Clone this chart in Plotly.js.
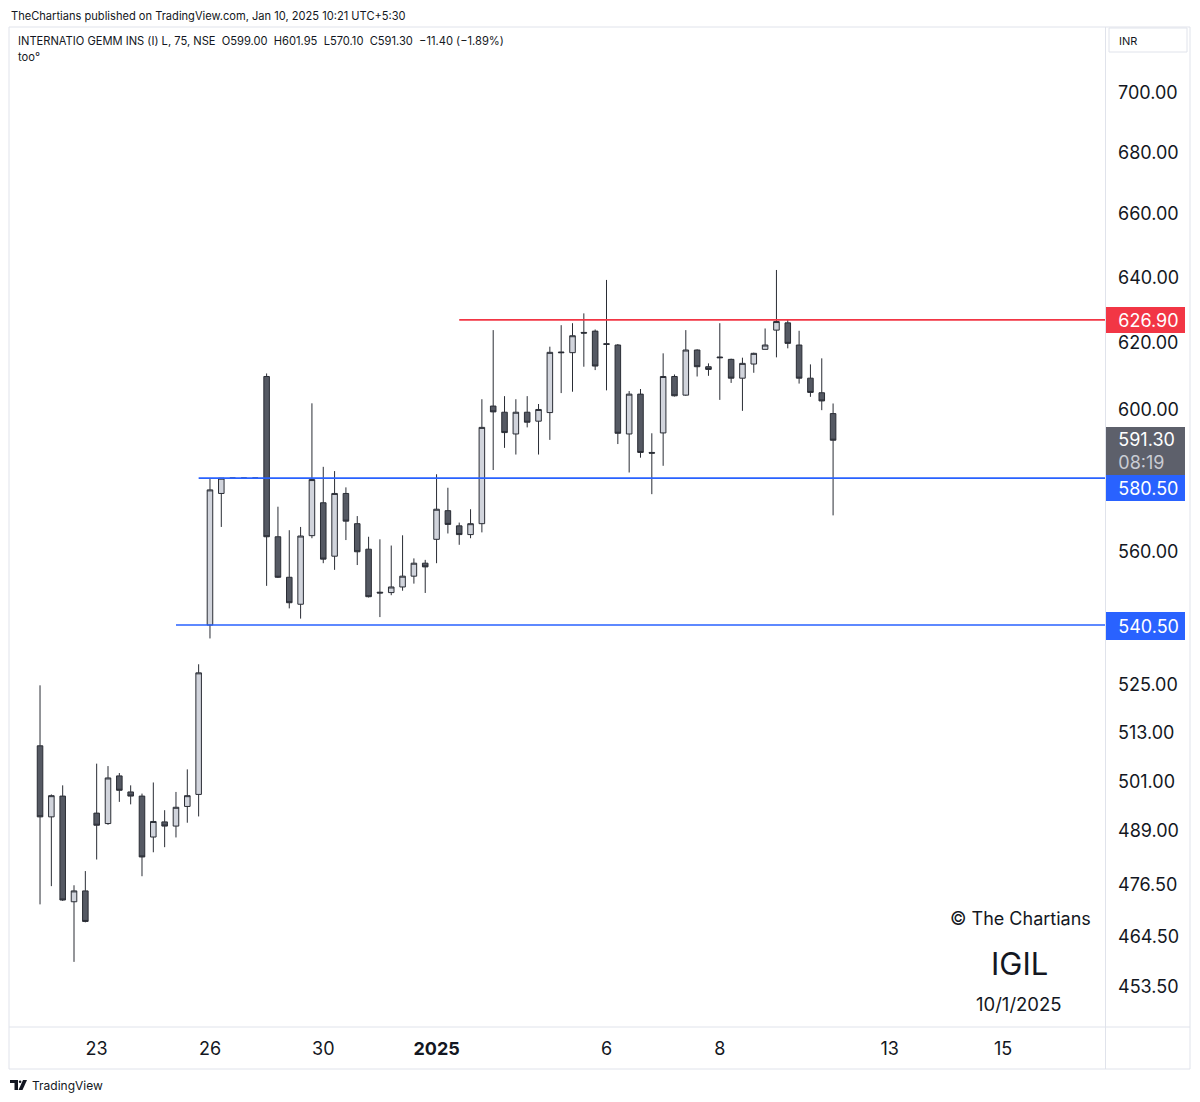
<!DOCTYPE html>
<html>
<head>
<meta charset="utf-8">
<script src="https://cdn.plot.ly/plotly-3.0.1.min.js"></script>
<style>
html,body{margin:0;padding:0;background:#fff;}
#chart{width:1200px;height:1102px;}
</style>
</head>
<body>
<div id="chart"></div>
<script>
// 75-minute bars, IGIL (NSE), Dec 20 2024 -> Jan 10 2025 (5 bars per session)
const open  = [509.7,492.4,497.4,472.5,475.0, 493.3,490.8,502.3,498.4,497.4, 487.6,491.2,490.2,494.9,497.8,
               540.5,576.2,580.5,580.5,580.5, 609.9,564.2,553.2,546.0,564.5, 573.6,558.9,576.2,567.8,560.8,
               549.2,549.1,550.6,553.5,557.0, 563.5,571.4,567.2,564.8,567.8, 601.2,599.4,593.1,599.4,596.8,
               599.3,617.2,617.0,623.1,623.5, 619.7,619.3,593.1,604.7,587.8, 593.4,609.9,604.4,617.8,612.8,
               615.7,615.0,609.4,613.6,618.0, 623.8,626.0,619.3,609.4,605.1, 599.0];
const high  = [524.9,497.8,500.0,476.3,479.6, 505.3,504.7,503.0,500.0,498.0, 500.7,494.0,498.4,503.9,530.3,
               580.5,580.5,580.5,580.5,580.5, 610.8,572.5,566.0,566.9,602.0, 583.7,582.5,577.9,569.9,564.2,
               563.5,561.8,564.6,558.3,557.9, 581.6,577.8,568.1,571.8,603.2, 623.8,604.1,603.2,604.1,601.8,
               618.8,625.3,625.9,628.9,624.0, 639.2,619.6,605.6,606.2,593.3, 616.8,610.5,623.8,618.0,613.8,
               625.9,615.2,615.5,617.0,624.3, 642.3,626.9,623.6,613.5,615.3, 601.95];
const low   = [471.9,476.1,472.7,458.9,467.8, 482.3,490.5,496.0,495.4,478.4, 484.0,485.2,487.5,491.0,492.5,
               537.0,566.9,580.5,580.5,580.5, 550.9,553.0,544.9,542.2,563.8, 557.0,555.2,563.3,556.5,547.8,
               542.6,548.4,549.6,551.5,549.0, 557.0,565.1,562.0,563.8,565.4, 582.8,589.1,587.2,595.0,587.2,
               591.4,605.0,605.4,612.8,611.8, 605.8,590.2,582.1,586.3,576.0, 584.0,604.0,604.2,609.9,610.1,
               603.0,608.0,599.8,611.0,618.0, 615.6,618.3,607.8,603.9,600.0, 570.1];
const close = [492.4,497.5,472.9,475.0,468.0, 490.4,501.8,498.8,497.4,482.9, 491.3,490.2,494.7,497.5,528.1,
               577.2,580.5,580.5,580.5,580.5, 564.2,553.2,546.4,564.4,580.1, 558.1,576.2,568.5,560.1,548.0,
               549.0,550.6,553.5,557.0,556.0, 571.8,567.6,564.8,567.8,595.0, 599.5,593.5,599.4,596.5,600.2,
               617.1,617.0,622.1,622.9,613.0, 619.5,593.3,604.7,587.8,587.6, 609.9,604.2,617.8,612.8,612.0,
               615.5,609.4,613.8,616.8,619.3, 626.4,619.8,609.4,605.2,602.7, 591.3];

// time-axis labels (bar index of the first bar of each labelled session)
const dayTickBars   = [5, 15, 25, 35, 50, 60, 75, 85];
const dayTickLabels = ['23', '26', '30', '<b>2025</b>', '6', '8', '13', '15'];

// price-scale labels
const priceTicks = [453.5, 464.5, 476.5, 489, 501, 513, 525, 560, 600, 620, 640, 660, 680, 700];

// drawn horizontal levels
const levelPrices   = [626.9, 580.5, 540.5];
const levelStartBar = [37, 14, 12];
const levelColors   = ['#f23645', '#2962ff', '#2962ff'];

const lastPrice = 591.30;
const countdown = '08:19';

const barIndex = close.map((_, i) => i);

const FONT = 'Inter, Roboto, "Noto Sans", sans-serif';
const TXT = '#131722';
const xRange = [-2.65, 94.0];
const yRange = [Math.log10(444.6), Math.log10(722.8)];

// pixel helpers for paper coordinates (plot: x 10..1105, y 27..1027)
const px = x => (x - 10) / 1095;
const py = y => (1027 - y) / 1000;

const trace = {
  type: 'candlestick',
  x: barIndex, open: open, high: high, low: low, close: close,
  increasing: {line: {color: '#2a2d35', width: 1}, fillcolor: '#d1d4dc'},
  decreasing: {line: {color: '#2a2d35', width: 1}, fillcolor: '#555963'},
  whiskerwidth: 0,
  hoverinfo: 'skip',
  showlegend: false
};

const shapes = [];
// frame
shapes.push({type:'rect', xref:'paper', yref:'paper', x0:px(9), x1:px(1190), y0:py(1069), y1:py(27),
  line:{color:'#e0e3eb', width:1}, layer:'below'});
shapes.push({type:'line', xref:'paper', yref:'paper', x0:px(1105.5), x1:px(1105.5), y0:py(1069), y1:py(27),
  line:{color:'#e0e3eb', width:1}});
shapes.push({type:'line', xref:'paper', yref:'paper', x0:px(9), x1:px(1190), y0:py(1027), y1:py(1027),
  line:{color:'#e0e3eb', width:1}});
// INR box
shapes.push({type:'rect', xref:'paper', yref:'paper', x0:px(1109), x1:px(1187), y0:py(52), y1:py(28),
  line:{color:'#e0e3eb', width:1}});
// levels
levelPrices.forEach((p, i) => {
  shapes.push({type:'line', xref:'x', yref:'y', x0:levelStartBar[i], x1:xRange[1], y0:p, y1:p,
    line:{color:levelColors[i], width:1.6}, layer:'above'});
});
// TradingView logo (small)
shapes.push({type:'path', xref:'paper', yref:'paper', fillcolor:TXT, line:{width:0},
  path:`M ${px(10)} ${py(1080)} L ${px(18)} ${py(1080)} L ${px(18)} ${py(1090)} L ${px(14.5)} ${py(1090)} L ${px(14.5)} ${py(1083)} L ${px(10)} ${py(1083)} Z`});
shapes.push({type:'circle', xref:'paper', yref:'paper', fillcolor:TXT, line:{width:0},
  x0:px(18.8), x1:px(21.4), y0:py(1083), y1:py(1080.4)});
shapes.push({type:'path', xref:'paper', yref:'paper', fillcolor:TXT, line:{width:0},
  path:`M ${px(23)} ${py(1080)} L ${px(27)} ${py(1080)} L ${px(22.5)} ${py(1090)} L ${px(18.5)} ${py(1090)} Z`});

const annotations = [];
function txt(text, x, y, size, opts) {
  annotations.push(Object.assign({text:text, xref:'paper', yref:'paper', x:x, y:y, showarrow:false,
    xanchor:'left', yanchor:'middle', font:{family:FONT, size:size, color:TXT}}, opts || {}));
}
txt('TheChartians published on TradingView.com, Jan 10, 2025 10:21 UTC+5:30', px(9), py(16), 11.1);
txt('INTERNATIO GEMM INS (I) L, 75, NSE\u00a0\u00a0O599.00\u00a0\u00a0H601.95\u00a0\u00a0L570.10\u00a0\u00a0C591.30\u00a0\u00a0\u221211.40 (\u22121.89%)',
    px(16), py(41), 11.15);
txt('too\u00b0', px(16), py(57), 11.15);
txt('INR', px(1117), py(41), 11);
txt('\u00a9 The Chartians', px(1020), py(918), 18, {xanchor:'center'});
txt('IGIL', px(1019), py(963), 31, {xanchor:'center'});
txt('10/1/2025', px(1019), py(1004), 18.5, {xanchor:'center'});
txt('TradingView', px(30), py(1085), 12);

// price tags on the price scale (coloured boxes)
const PAD = '\u2002\u2009';
function priceTag(text, price, boxH, anchor, shift, bg) {
  annotations.push({text: PAD + text, xref:'paper', yref:'y', x:px(1106), y:Math.log10(price),
    yshift:shift, showarrow:false, xanchor:'left', yanchor:anchor, align:'left',
    width:79, height:boxH, borderpad:0, borderwidth:0, bgcolor:bg,
    font:{family:FONT, size:18, color:'#ffffff'}});
}
priceTag(levelPrices[0].toFixed(2), levelPrices[0], 26, 'middle', 0, levelColors[0]);
priceTag(lastPrice.toFixed(2) + '<br>' + PAD + '<span style="color:#c9ccd4">' + countdown + '</span>',
         lastPrice, 48, 'top', 13, '#5d606b');
priceTag(levelPrices[1].toFixed(2), levelPrices[1], 26, 'middle', -10, levelColors[1]);
priceTag(levelPrices[2].toFixed(2), levelPrices[2], 28, 'middle', -1, levelColors[2]);

const layout = {
  width: 1200, height: 1102,
  margin: {l: 10, r: 95, t: 27, b: 75, pad: 0},
  paper_bgcolor: '#ffffff', plot_bgcolor: '#ffffff',
  showlegend: false,
  font: {family: FONT, color: TXT},
  xaxis: {
    type: 'linear', range: xRange, rangeslider: {visible: false},
    showgrid: false, zeroline: false, showline: false, ticks: '',
    tickmode: 'array', tickvals: dayTickBars, ticktext: dayTickLabels,
    tickfont: {family: FONT, size: 18, color: TXT}, ticklabelstandoff: 9,
    fixedrange: true
  },
  yaxis: {
    type: 'log', range: yRange, side: 'right',
    showgrid: false, zeroline: false, showline: false, ticks: '',
    tickmode: 'array', tickvals: priceTicks, ticktext: priceTicks.map(v => v.toFixed(2)),
    tickfont: {family: FONT, size: 18, color: TXT}, ticklabelstandoff: 12,
    fixedrange: true
  },
  shapes: shapes,
  annotations: annotations
};

Plotly.newPlot('chart', [trace], layout, {staticPlot: true, displayModeBar: false});
</script>
</body>
</html>
